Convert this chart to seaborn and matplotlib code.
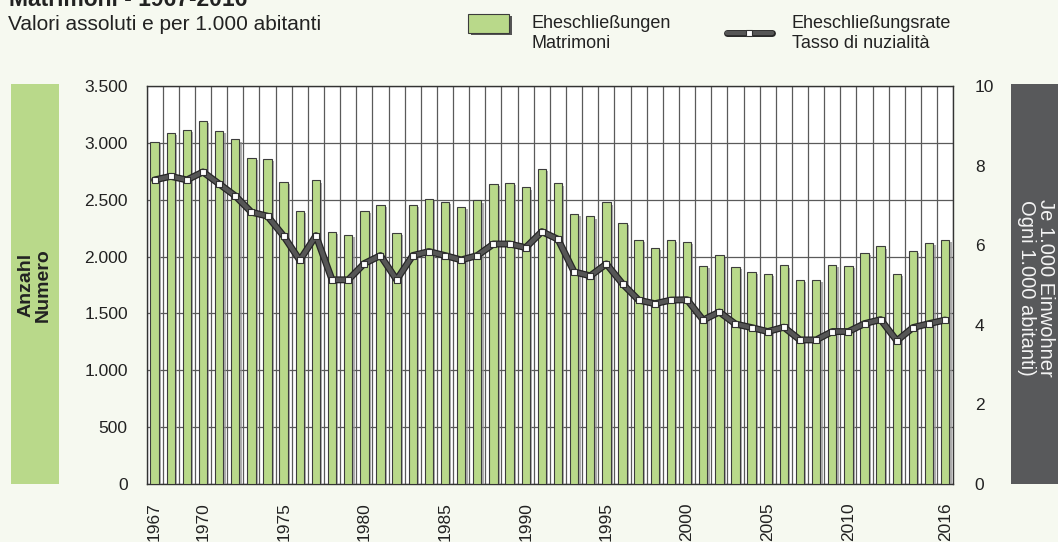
import numpy as np
import pandas as pd
import matplotlib
matplotlib.use("Agg")
import matplotlib.pyplot as plt
import matplotlib.patheffects as pe
from matplotlib.patches import Rectangle
from matplotlib.lines import Line2D
from matplotlib.ticker import FuncFormatter
import seaborn as sns

# ---------------- data ----------------
years = list(range(1967, 2017))
marriages = [3010, 3090, 3115, 3190, 3105, 3030, 2870, 2860, 2660, 2405, 2670, 2215, 2190, 2405, 2455, 2205, 2455, 2505,
             2478, 2440, 2495, 2641, 2647, 2609, 2768, 2644, 2372, 2354, 2477, 2295, 2146, 2076, 2146, 2126,
             1920, 2010, 1908, 1867, 1847, 1923, 1797, 1794, 1926, 1915, 2034, 2090, 1850, 2049, 2117, 2146]
rate = [7.64, 7.73, 7.64, 7.84, 7.54, 7.24, 6.83, 6.73, 6.23, 5.62, 6.24, 5.13, 5.13, 5.54, 5.74, 5.13, 5.74, 5.84,
        5.74, 5.63, 5.74, 6.03, 6.03, 5.94, 6.34, 6.15, 5.33, 5.23, 5.53, 5.03, 4.62, 4.53, 4.62, 4.63,
        4.12, 4.32, 4.02, 3.93, 3.83, 3.94, 3.62, 3.62, 3.83, 3.83, 4.03, 4.13, 3.60, 3.93, 4.03, 4.12]
tick_years = [1967, 1970, 1975, 1980, 1985, 1990, 1995, 2000, 2005, 2010, 2016]
left_ticks = [0, 500, 1000, 1500, 2000, 2500, 3000, 3500]
right_ticks = [0, 2, 4, 6, 8, 10]

title = "Matrimoni - 1967-2016"
subtitle = "Valori assoluti e per 1.000 abitanti"
bar_label = ["Eheschließungen", "Matrimoni"]
line_label = ["Eheschließungsrate", "Tasso di nuzialità"]
left_axis_label = "Anzahl\nNumero"
right_axis_label = "Je 1.000 Einwohner\nOgni 1.000 abitanti)"

# ---------------- style ----------------
GREEN = "#b9d98a"
DARK = "#58595b"
BG = "#f6f9f0"
LINEC = "#565656"
GRID = "#5a5a5a"
TXT = "#222222"

sns.set_theme(style="white")
plt.rcParams["font.family"] = ["Liberation Sans", "DejaVu Sans"]

df = pd.DataFrame({"year": [str(y) for y in years], "marriages": marriages, "rate": rate})
n = len(years)
pos = np.arange(n)

fig = plt.figure(figsize=(10.58, 5.42), dpi=100, facecolor=BG)
W, H = 1058.0, 542.0
ax = fig.add_axes([146.5 / W, 1 - 484 / H, (953.3 - 146.5) / W, (484 - 86) / H])
ax.set_facecolor("white")

sns.barplot(data=df, x="year", y="marriages", ax=ax, color=GREEN, saturation=1,
            width=0.52, edgecolor="#3c3c3c", linewidth=0.8, zorder=3)
for p in ax.patches:
    p.set_path_effects([pe.SimplePatchShadow(offset=(1.6, -1.6), shadow_rgbFace="#8c8c8c", alpha=0.7),
                        pe.Normal()])

ax.set_xlim(-0.5, n - 0.5)
ax.set_ylim(0, 3500)
ax.set_yticks(left_ticks)
ax.yaxis.set_major_formatter(FuncFormatter(lambda v, _: f"{int(v):,}".replace(",", ".")))
ax.set_xticks([years.index(y) for y in tick_years])
ax.set_xticklabels([str(y) for y in tick_years], rotation=90, fontsize=12.5, color=TXT, va="top")
ax.set_xticks(np.arange(-0.5, n, 1.0), minor=True)
ax.tick_params(axis="both", which="both", length=0)
ax.tick_params(axis="x", which="major", pad=13)
ax.tick_params(axis="y", which="major", pad=13.5, labelsize=12.5, labelcolor=TXT)
ax.set_axisbelow(True)
ax.grid(axis="y", which="major", color=GRID, linewidth=0.9)
ax.grid(axis="x", which="minor", color=GRID, linewidth=0.9)
ax.grid(axis="x", which="major", visible=False)
ax.set_xlabel("")
ax.set_ylabel("")
for s in ax.spines.values():
    s.set_visible(True)
    s.set_color("#333333")
    s.set_linewidth(1.0)

ax2 = ax.twinx()
sns.lineplot(x=pos, y=rate, ax=ax2, color=LINEC, linewidth=3.2, zorder=4,
             path_effects=[pe.Stroke(linewidth=5.0, foreground="#262626"), pe.Normal()])
sns.scatterplot(x=pos, y=rate, ax=ax2, marker="s", s=22, color="white",
                edgecolor="#333333", linewidth=0.8, zorder=5)
ax2.set_ylim(0, 10)
ax2.set_yticks(right_ticks)
ax2.tick_params(axis="y", length=0, pad=15.5, labelsize=12.5, labelcolor=TXT)
ax2.set_xlim(-0.5, n - 0.5)
ax2.grid(False)
ax2.set_ylabel("")
for s in ax2.spines.values():
    s.set_visible(False)

# ---------------- side label boxes ----------------
fig.patches.append(Rectangle((11 / W, 1 - 484 / H), 48 / W, 400 / H, transform=fig.transFigure,
                             facecolor=GREEN, edgecolor="none", zorder=0))
fig.text(35 / W, 1 - 285 / H, left_axis_label, rotation=90, ha="center", va="center",
         fontsize=14, fontweight="bold", color=TXT, linespacing=1.0)
fig.patches.append(Rectangle((1011 / W, 1 - 484 / H), 47 / W, 400 / H, transform=fig.transFigure,
                             facecolor=DARK, edgecolor="none", zorder=0))
fig.text(1036 / W, 1 - 288 / H, right_axis_label, rotation=270, ha="center", va="center",
         fontsize=14.5, color="#f4f4f4", linespacing=0.95)

# ---------------- titles ----------------
fig.text(9 / W, 1 - 6.5 / H, title, ha="left", va="baseline", fontsize=16.5, fontweight="bold", color=TXT)
fig.text(8.5 / W, 1 - 30 / H, subtitle, ha="left", va="baseline", fontsize=15, color=TXT)

# ---------------- legend ----------------
fig.patches.append(Rectangle((470.5 / W, 1 - 35 / H), 41 / W, 19 / H, transform=fig.transFigure,
                             facecolor="#555555", edgecolor="none"))
fig.patches.append(Rectangle((468 / W, 1 - 33 / H), 41 / W, 19 / H, transform=fig.transFigure,
                             facecolor=GREEN, edgecolor="#3c3c3c", linewidth=0.8))
fig.text(531.5 / W, 1 - 28 / H, bar_label[0], ha="left", va="baseline", fontsize=13, color=TXT)
fig.text(531.5 / W, 1 - 48 / H, bar_label[1], ha="left", va="baseline", fontsize=13, color=TXT)

leg_line = Line2D([727 / W, 771.5 / W], [1 - 32.5 / H, 1 - 32.5 / H], transform=fig.transFigure,
                  color=LINEC, linewidth=3.2,
                  path_effects=[pe.Stroke(linewidth=5.0, foreground="#262626"), pe.Normal()])
fig.lines.append(leg_line)
leg_mk = Line2D([749 / W], [1 - 32.5 / H], transform=fig.transFigure, marker="s", markersize=4.5,
                markerfacecolor="white", markeredgecolor="#333333", markeredgewidth=0.8, linestyle="none")
fig.lines.append(leg_mk)
fig.text(791.5 / W, 1 - 28 / H, line_label[0], ha="left", va="baseline", fontsize=13, color=TXT)
fig.text(791.5 / W, 1 - 48 / H, line_label[1], ha="left", va="baseline", fontsize=13, color=TXT)

fig.savefig("out.png", dpi=100, facecolor=BG)
